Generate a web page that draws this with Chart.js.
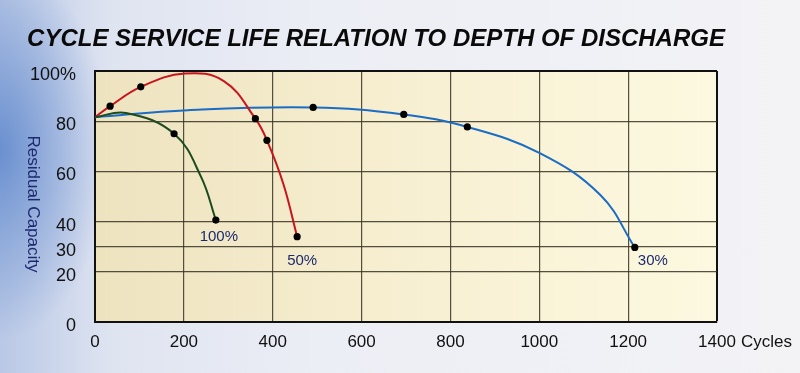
<!DOCTYPE html>
<html>
<head>
<meta charset="utf-8">
<title>Cycle Service Life Relation to Depth of Discharge</title>
<script src="https://cdn.jsdelivr.net/npm/chart.js@4.4.1/dist/chart.umd.min.js"></script>
<style>
  html, body { margin: 0; padding: 0; }
  body {
    width: 800px;
    height: 373px;
    overflow: hidden;
    background:
      radial-gradient(ellipse 110px 190px at 0px 150px, rgba(80,125,200,0.75), rgba(80,125,200,0) 100%),
      linear-gradient(to right, #b9c8e6 0%, #dfe4f1 14%, #eceef5 40%, #f3f3f6 100%);
  }
  canvas { display: block; }
</style>
</head>
<body>
<canvas id="lifeChart" width="800" height="373"></canvas>
<script>
// ========================================
// Cycle life vs depth of discharge
// ========================================

// Curve points (cycles, residual capacity %)
// only some points carry a dot on the original, the rest shape the curve
const dod100Cycles   = [0, 70, 178, 239, 272];
const dod100Capacity = [81.6, 83.3, 75, 57.7, 40.6];
const dod100Dots     = [178, 272];

const dod50Cycles   = [0, 34, 103, 202, 290, 361, 387, 424, 455];
const dod50Capacity = [81.6, 86, 93.7, 99, 96, 81, 72.4, 55, 34];
const dod50Dots     = [34, 103, 361, 387, 455];

const dod30Cycles   = [0, 209, 491, 695, 838, 1000, 1138, 1215];
const dod30Capacity = [81.6, 84.4, 85.5, 82.7, 77.7, 67.4, 50.5, 29.7];
const dod30Dots     = [491, 695, 838, 1215];

const seriesNames  = ['100%', '50%', '30%'];
const yTickValues  = [0, 20, 30, 40, 60, 80, 100];
const xTickStep    = 200;
const xMax         = 1400;

const GRID = 'rgba(55,50,35,0.85)';
const INK = '#1e2a6e';
const FONT = '"Liberation Sans", Arial, sans-serif';

function toPoints(xs, ys) {
  return xs.map((x, i) => ({ x: x, y: ys[i] }));
}

function dotRadius(xs, dots) {
  return xs.map(x => dots.includes(x) ? 3.6 : 0);
}

function makeSet(name, xs, ys, dots, color, labelDx, labelDy) {
  return {
    label: name,
    data: toPoints(xs, ys),
    borderColor: color,
    borderWidth: 2,
    pointRadius: dotRadius(xs, dots),
    pointBackgroundColor: '#000',
    pointBorderWidth: 0,
    tension: 0.4,
    fill: false,
    labelDx: labelDx,
    labelDy: labelDy
  };
}

// Cream plot background
const plotBackground = {
  id: 'plotBackground',
  beforeDraw(chart) {
    const { ctx, chartArea: a } = chart;
    const g = ctx.createLinearGradient(a.left, 0, a.right, 0);
    g.addColorStop(0, '#ede3bf');
    g.addColorStop(0.45, '#f7eed0');
    g.addColorStop(1, '#fcf9e0');
    ctx.save();
    ctx.fillStyle = g;
    ctx.fillRect(a.left, a.top, a.right - a.left, a.bottom - a.top);
    ctx.restore();
  }
};

// Title, rotated axis title, "Cycles" and curve labels
const extraText = {
  id: 'extraText',
  afterDraw(chart) {
    const { ctx, chartArea: a, scales } = chart;
    ctx.save();

    ctx.fillStyle = '#0a0a0a';
    ctx.font = 'italic bold 24px ' + FONT;
    ctx.textAlign = 'center';
    ctx.textBaseline = 'middle';
    ctx.fillText('CYCLE SERVICE LIFE RELATION TO DEPTH OF DISCHARGE', 376, 39);

    ctx.fillStyle = INK;
    ctx.font = '17px ' + FONT;
    ctx.translate(33, a.top + 133);
    ctx.rotate(Math.PI / 2);
    ctx.fillText('Residual Capacity', 0, 0);
    ctx.setTransform(1, 0, 0, 1, 0, 0);

    ctx.fillStyle = '#111';
    ctx.font = '17px ' + FONT;
    ctx.textAlign = 'left';
    const lastX = scales.x.getPixelForValue(xMax);
    const w = ctx.measureText(String(xMax)).width;
    ctx.fillText('Cycles', lastX + w / 2 + 5, a.bottom + 20.5);

    ctx.fillStyle = INK;
    ctx.font = '15px ' + FONT;
    ctx.textAlign = 'center';
    chart.data.datasets.forEach((ds, i) => {
      const pts = chart.getDatasetMeta(i).data;
      const end = pts[pts.length - 1];
      ctx.fillText(ds.label, end.x + ds.labelDx, end.y + ds.labelDy);
    });

    ctx.restore();
  }
};

new Chart(document.getElementById('lifeChart'), {
  type: 'line',
  data: {
    datasets: [
      makeSet(seriesNames[0], dod100Cycles, dod100Capacity, dod100Dots, '#1d4a1f', 3, 17),
      makeSet(seriesNames[1], dod50Cycles, dod50Capacity, dod50Dots, '#c8141c', 5, 24),
      makeSet(seriesNames[2], dod30Cycles, dod30Capacity, dod30Dots, '#1a6cc4', 18, 13)
    ]
  },
  options: {
    responsive: false,
    animation: false,
    layout: { padding: { top: 71, right: 83, left: 0, bottom: 0 } },
    plugins: {
      legend: { display: false },
      tooltip: { enabled: false }
    },
    scales: {
      x: {
        type: 'linear',
        min: 0,
        max: xMax,
        afterFit: scale => { scale.height = 51; },
        ticks: {
          stepSize: xTickStep,
          padding: 10,
          color: '#111',
          font: { family: FONT, size: 17 },
          callback: v => String(v)
        },
        grid: {
          drawTicks: false,
          color: c => c.tick && c.tick.value === xMax ? '#111' : GRID,
          lineWidth: c => c.tick && c.tick.value === xMax ? 2 : 1.2
        },
        border: { color: '#111', width: 2 }
      },
      y: {
        type: 'linear',
        min: 0,
        max: 100,
        afterFit: scale => { scale.width = 95; },
        afterBuildTicks: scale => { scale.ticks = yTickValues.map(v => ({ value: v })); },
        ticks: {
          padding: 19,
          labelOffset: 4,
          color: '#111',
          font: { family: FONT, size: 18 },
          callback: v => v === 100 ? '100%' : String(v)
        },
        grid: {
          drawTicks: false,
          color: c => c.tick && c.tick.value === 100 ? '#111' : GRID,
          lineWidth: c => c.tick && c.tick.value === 100 ? 2 : 1.2
        },
        border: { color: '#111', width: 2 }
      }
    }
  },
  plugins: [plotBackground, extraText]
});
</script>
</body>
</html>
